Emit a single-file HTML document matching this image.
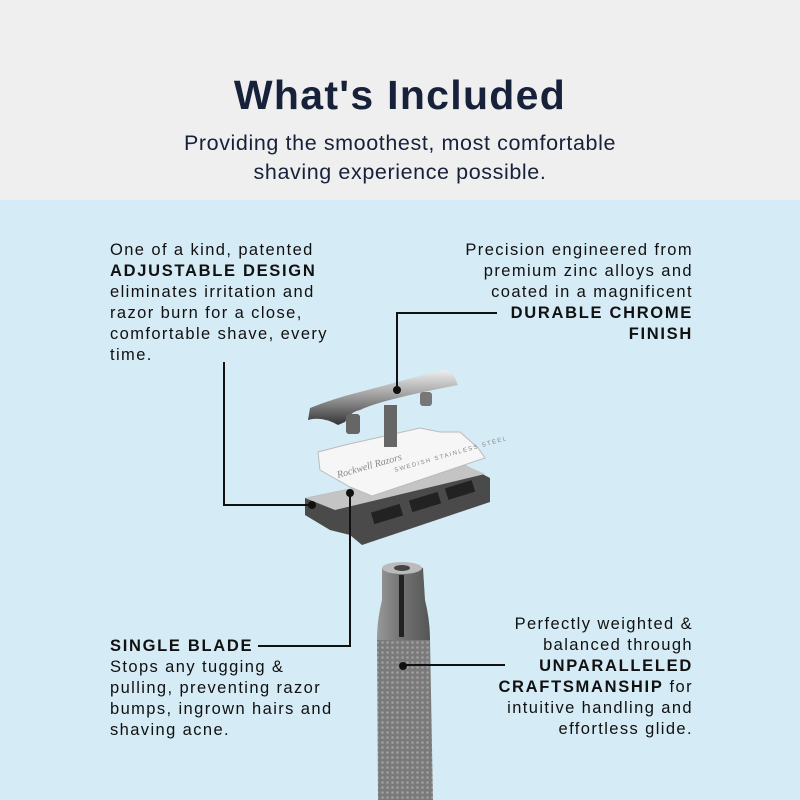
<!DOCTYPE html>
<html><head><style>
body{margin:0;width:800px;height:800px;overflow:hidden;font-family:"Liberation Sans",sans-serif;}
.top{position:absolute;left:0;top:0;width:800px;height:200px;background:#efefef;}
.bot{position:absolute;left:0;top:200px;width:800px;height:600px;background:#d5ebf5;}
h1{position:absolute;top:72px;left:0;width:800px;text-align:center;margin:0;font-size:41px;color:#17213a;letter-spacing:1.3px;}
.sub{position:absolute;top:129px;left:0;width:800px;text-align:center;font-size:21.5px;line-height:29px;color:#17213a;letter-spacing:0.6px;}
.t{position:absolute;font-size:16.5px;line-height:21px;color:#111;letter-spacing:1.4px;white-space:nowrap;}
.t b{letter-spacing:1.7px;}
</style></head><body>
<div class="top"></div><div class="bot"></div>
<h1>What's Included</h1>
<div class="sub">Providing the smoothest, most comfortable<br>shaving experience possible.</div>
<div class="t" style="left:110px;top:240px;">One of a kind, patented<br><b>ADJUSTABLE DESIGN</b><br>eliminates irritation and<br>razor burn for a close,<br>comfortable shave, every<br>time.</div>
<div class="t" style="right:107px;top:240px;text-align:right;">Precision engineered from<br>premium zinc alloys and<br>coated in a magnificent<br><b>DURABLE CHROME<br>FINISH</b></div>
<div class="t" style="left:110px;top:636px;"><b>SINGLE BLADE</b><br>Stops any tugging &amp;<br>pulling, preventing razor<br>bumps, ingrown hairs and<br>shaving acne.</div>
<div class="t" style="right:107px;top:614px;text-align:right;">Perfectly weighted &amp;<br>balanced through<br><b>UNPARALLELED<br>CRAFTSMANSHIP</b> for<br>intuitive handling and<br>effortless glide.</div>
<svg width="800" height="800" style="position:absolute;left:0;top:0">
<defs>
<linearGradient id="m" x1="0" y1="0" x2="0" y2="1"><stop offset="0" stop-color="#eee"/><stop offset="0.5" stop-color="#999"/><stop offset="1" stop-color="#333"/></linearGradient>
<linearGradient id="h" x1="0" y1="0" x2="1" y2="0"><stop offset="0" stop-color="#999"/><stop offset="0.4" stop-color="#777"/><stop offset="1" stop-color="#555"/></linearGradient>
<pattern id="k" width="5" height="5" patternUnits="userSpaceOnUse"><rect width="5" height="5" fill="#7a7a7a"/><circle cx="2.5" cy="2.5" r="1.3" fill="#a0a0a0"/></pattern>
</defs>
<!-- base plate -->
<polygon points="305,498 465,465 490,478 490,502 362,545 350,535 330,530 305,515" fill="#4a4a4a"/>
<polygon points="305,498 465,465 485,474 335,510" fill="#c4c4c4"/>
<rect x="372" y="508" width="30" height="12" fill="#222" transform="rotate(-17 387 514)"/>
<rect x="410" y="496" width="30" height="12" fill="#222" transform="rotate(-17 425 502)"/>
<rect x="446" y="484" width="28" height="12" fill="#222" transform="rotate(-17 460 490)"/>
<!-- blade -->
<polygon points="318,452 345,445 420,428 440,432 460,432 478,448 485,458 372,496 350,487 320,470" fill="#f6f6f6" stroke="#bbb"/>
<text x="338" y="478" font-size="10" fill="#888" transform="rotate(-16 338 478)" font-family="Liberation Serif" font-style="italic">Rockwell Razors</text>
<text x="395" y="472" font-size="6" fill="#888" transform="rotate(-16 395 472)" letter-spacing="1.5">SWEDISH STAINLESS STEEL</text>
<!-- screw -->
<rect x="384" y="405" width="13" height="42" fill="#666"/>
<!-- top cap -->
<path d="M310,408 Q335,398 360,392 L442,370 Q452,370 455,378 L458,385 Q380,400 360,410 Q350,412 345,422 L338,425 Q322,416 308,420 Z" fill="url(#m)"/>
<rect x="346" y="414" width="14" height="20" rx="3" fill="#666"/>
<rect x="420" y="392" width="12" height="14" rx="3" fill="#777"/>
<!-- handle -->
<path d="M382,568 Q402,560 423,568 L425,600 Q430,620 430,640 L377,640 Q377,620 382,600 Z" fill="url(#h)"/>
<ellipse cx="402" cy="568" rx="20" ry="6" fill="#bbb"/><ellipse cx="402" cy="568" rx="8" ry="3" fill="#444"/>
<rect x="399" y="575" width="5" height="62" fill="#222"/>
<path d="M377,640 L430,640 L433,800 L378,800 Z" fill="url(#k)"/>
<!-- connectors -->
<g stroke="#111" stroke-width="2" fill="none">
<polyline points="224,362 224,505 312,505"/>
<polyline points="497,313 397,313 397,390"/>
<polyline points="258,646 350,646 350,493"/>
<polyline points="403,665 505,665"/>
</g>
<g fill="#111"><circle cx="312" cy="505" r="4"/><circle cx="397" cy="390" r="4"/><circle cx="350" cy="493" r="4"/><circle cx="403" cy="666" r="4"/></g>
</svg>
</body></html>
